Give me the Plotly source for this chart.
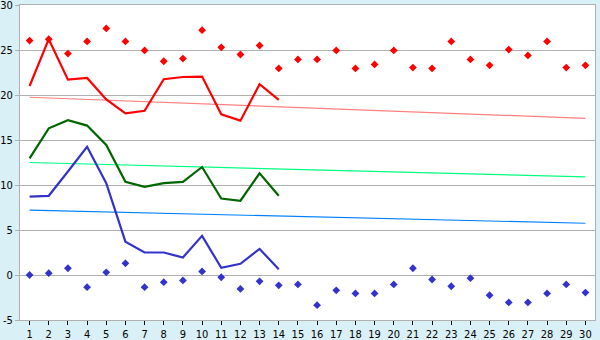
import plotly.graph_objects as go

days = list(range(1, 31))
line_days = list(range(1, 15))

red_line = [21.0, 26.2, 21.7, 21.9, 19.5, 17.95, 18.25, 21.75, 22.0, 22.05, 17.85, 17.15, 21.2, 19.45]
green_line = [12.95, 16.3, 17.2, 16.6, 14.45, 10.35, 9.8, 10.2, 10.35, 12.0, 8.5, 8.25, 11.3, 8.8]
blue_line = [8.7, 8.8, 11.5, 14.25, 10.2, 3.7, 2.5, 2.5, 1.95, 4.35, 0.8, 1.25, 2.9, 0.65]

red_pts = [26.05, 26.2, 24.6, 25.95, 27.4, 25.95, 24.95, 23.75, 24.05, 27.2,
           25.3, 24.5, 25.5, 22.95, 23.95, 23.95, 24.95, 22.95, 23.4, 24.95,
           23.05, 22.95, 25.95, 23.95, 23.3, 25.05, 24.4, 25.95, 23.05, 23.3]
blue_pts = [0.0, 0.2, 0.75, -1.35, 0.3, 1.3, -1.35, -0.8, -0.6, 0.4,
            -0.25, -1.55, -0.7, -1.15, -1.05, -3.35, -1.7, -2.05, -2.05, -1.05,
            0.75, -0.5, -1.25, -0.35, -2.25, -3.05, -3.05, -2.05, -1.05, -1.95]

trend_x = [1, 30]
red_trend = [19.75, 17.4]
green_trend = [12.5, 10.9]
blue_trend = [7.2, 5.75]

y_ticks = [-5, 0, 5, 10, 15, 20, 25, 30]
y_labels = ["-5", "0", "5", "10", "15", "20", "25", "30"]

FONT = "DejaVu Sans Condensed, DejaVu Sans"

fig = go.Figure()
fig.add_trace(go.Scatter(x=trend_x, y=red_trend, mode="lines", line=dict(color="#ff8080", width=1.2)))
fig.add_trace(go.Scatter(x=trend_x, y=green_trend, mode="lines", line=dict(color="#00ff80", width=1.2)))
fig.add_trace(go.Scatter(x=trend_x, y=blue_trend, mode="lines", line=dict(color="#0080ff", width=1.2)))
fig.add_trace(go.Scatter(x=line_days, y=red_line, mode="lines", line=dict(color="#ff0000", width=2.2)))
fig.add_trace(go.Scatter(x=line_days, y=green_line, mode="lines", line=dict(color="#006600", width=2.2)))
fig.add_trace(go.Scatter(x=line_days, y=blue_line, mode="lines", line=dict(color="#3333cc", width=2.2)))
fig.add_trace(go.Scatter(x=days, y=red_pts, mode="markers",
                         marker=dict(symbol="diamond", size=6, color="#ff0000")))
fig.add_trace(go.Scatter(x=days, y=blue_pts, mode="markers",
                         marker=dict(symbol="diamond", size=6, color="#3333cc")))

fig.update_layout(
    width=600, height=340,
    margin=dict(l=20, r=5, t=5, b=20),
    paper_bgcolor="#d9f0f6",
    plot_bgcolor="#ffffff",
    showlegend=False,
    font=dict(family=FONT, size=11, color="#000000"),
)
fig.update_xaxes(range=[0.5, 30.5], tickmode="array", tickvals=days, ticktext=[str(d) for d in days],
                 showgrid=False, zeroline=False, showline=True, linecolor="#b0b0b0", linewidth=1,
                 mirror=True, ticks="outside", ticklen=4, tickcolor="#000000",
                 tickfont=dict(family=FONT, size=11),
                 ticklabeloverflow="allow", automargin=False)
fig.update_yaxes(range=[-5, 30], tickmode="array", tickvals=y_ticks, ticktext=y_labels,
                 showgrid=True, gridcolor="#b0b0b0", gridwidth=1, zeroline=False,
                 showline=True, linecolor="#b0b0b0", linewidth=1, mirror=True,
                 ticks="outside", ticklen=4, tickcolor="#b0b0b0",
                 tickfont=dict(family=FONT, size=11),
                 ticklabeloverflow="allow", automargin=False)

fig.write_html("out.html")
